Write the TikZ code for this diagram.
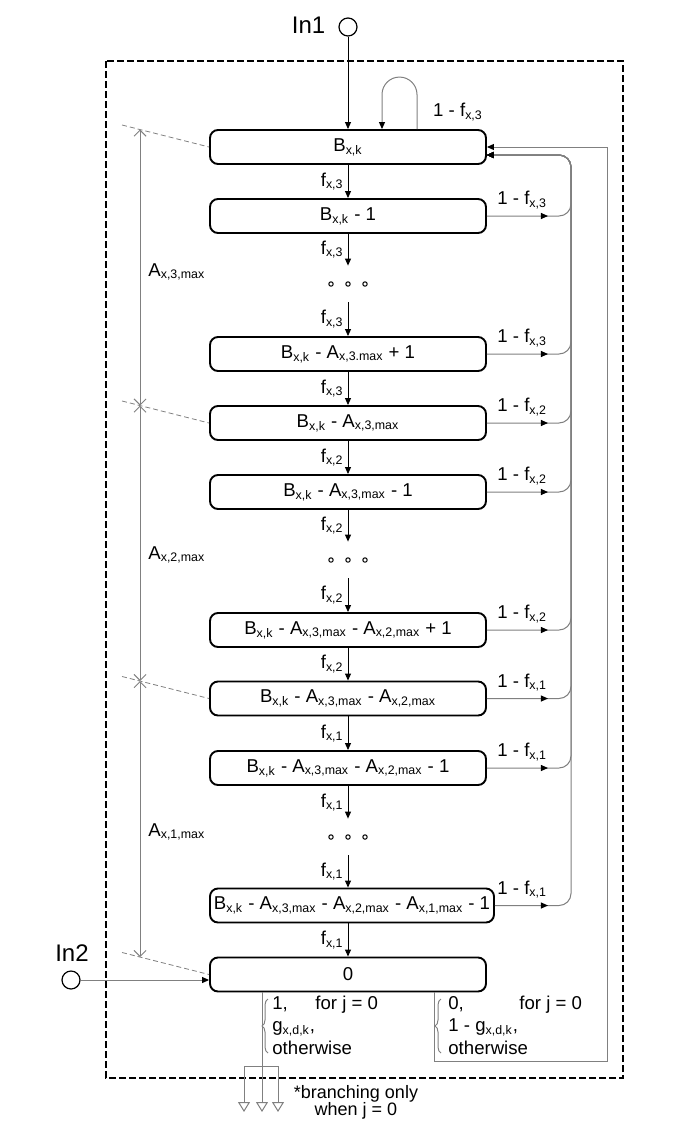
\documentclass[tikz,border=0pt]{standalone}
\usepackage{fontspec}
\setmainfont{Liberation Sans}
\usetikzlibrary{arrows.meta,calc,decorations.pathreplacing,decorations.markings}

\newcommand{\sbs}[1]{\textsubscript{\fontsize{6.2}{6.2}\selectfont #1}}
\newcommand{\Bxk}{B\sbs{x,k}}
\newcommand{\Amx}[1]{A\sbs{x,#1,max}}
\newcommand{\fx}[1]{f\sbs{x,#1}}

\begin{document}
\begin{tikzpicture}[
    x=0.5pt, y=-0.5pt,
    font=\fontsize{9.3}{11.2}\selectfont,
    blacktip/.style={-{Triangle[length=3.5pt,width=3pt,color=black]}},
    state/.style={draw, line width=0.95pt, rounded corners=4pt,
        minimum width=138pt, minimum height=17pt, inner sep=0pt},
    flow/.style={line width=0.45pt, blacktip},
    fb/.style={gray, line width=0.5pt},
    fl/.style={left, inner sep=2pt},
    dim/.style={gray, line width=0.45pt,
        {Straight Barb[length=3pt,width=6pt]}-{Straight Barb[length=3pt,width=6pt]}},
    guide/.style={gray, line width=0.4pt, dash pattern=on 2.5pt off 1.5pt},
    port/.style={circle, draw, line width=0.6pt, minimum size=9pt, inner sep=0pt},
    midtip/.style={postaction={decorate}, decoration={markings,
        mark=at position #1 with {\arrow{Triangle[length=3.5pt,width=3pt,color=black]}}}},
    sink/.style={-{Triangle[open,length=5pt,width=6pt]}},
]
\useasboundingbox (0,0) rectangle (685,1146);

% ---- 外框 ----
\draw[line width=0.75pt, dash pattern=on 3.5pt off 1.5pt] (106,61) rectangle (623,1078);

% ---- 状态 ----
\node[state] (b1)  at (348,147)   {\Bxk};
\node[state] (b2)  at (348,216)   {\Bxk{} - 1};
\node[state] (b3)  at (348,354)   {\Bxk{} - A\sbs{x,3.max} + 1};
\node[state] (b4)  at (348,423)   {\Bxk{} - \Amx{3}};
\node[state] (b5)  at (348,492)   {\Bxk{} - \Amx{3} - 1};
\node[state] (b6)  at (348,630)   {\Bxk{} - \Amx{3} - \Amx{2} + 1};
\node[state] (b7)  at (348,698.5) {\Bxk{} - \Amx{3} - \Amx{2}};
\node[state] (b8)  at (348,768)   {\Bxk{} - \Amx{3} - \Amx{2} - 1};
\node[state, minimum width=142pt] (b9) at (352,905.5)
    {\Bxk{} - \Amx{3} - \Amx{2} - \Amx{1} - 1};
\node[state] (b10) at (348,974.5) {0};

% ---- 省略号 ----
\foreach \n/\yd in {1/284, 2/560, 3/837} {
    \node[minimum width=40pt, minimum height=18pt, inner sep=0pt] (d\n) at (348,\yd) {};
    \foreach \dx in {-17,0,17}
        \draw[line width=0.5pt] ($(d\n)+(\dx,0)$) circle (1.1pt);
}

% ---- 输入 ----
\node[port] (in1) at (348,27) {};
\node[anchor=east, font=\fontsize{12}{14}\selectfont] (tin1) at ($(in1.west)+(-6,-2)$) {In1};
\node[port] (in2) at (71,980) {};
\node[font=\fontsize{12}{14}\selectfont] (tin2) at (72,953) {In2};
\draw[flow] (in1) -- (b1.north -| in1);
\draw[fb, blacktip] (in2) -- (in2 -| b10.west);

% ---- 主链 ----
\foreach \a/\b/\k in {b1/b2/3, b2/d1/3, d1/b3/3, b3/b4/3, b4/b5/2, b5/d2/2,
                      d2/b6/2, b6/b7/2, b7/b8/1, b8/d3/1, d3/b9/1, b9/b10/1}
    \draw[flow] (\a.south -| in1) -- node[fl] {\fx{\k}} (\b.north -| in1);

% ---- 自环 ----
\draw[fb, blacktip, rounded corners=8.75pt]
    ($(b1.north)+(69,0)$) -- ++(0,-52) -- ++(-35,0) -- ++(0,52);
\node (lself) at (458,112) {1 - \fx{3}};

% ---- 回到 B ----
\coordinate (bus) at (571,155);
\coordinate (fbin) at ($(b1.east)+(0,8)$);
\coordinate (lx) at (497,0);
\foreach \s/\k/\p in {b2/3/30.5pt, b3/3/30.5pt, b4/2/30.5pt, b5/2/30.5pt,
                      b6/2/30.5pt, b7/1/30.5pt, b8/1/30.5pt, b9/1/26.5pt} {
    \draw[fb, blacktip, rounded corners=6pt, midtip=\p]
        (\s.east) -- (\s.east -| bus) -- (bus) -- (fbin);
    \node[anchor=west, inner sep=0pt] (l\s) at ($(\s.east -| lx)+(0,-16)$) {1 - \fx{\k}};
}
\coordinate (loopr) at (607,1061);
\draw[fb, blacktip] ($(b10.south)+(86,0)$) |- (loopr) |- (b1.east);

% ---- 尺寸线 ----
\foreach \s/\n in {b1/1, b4/2, b7/3, b10/4} {
    \coordinate (g\n) at ($(\s.west)+(-87,-22)$);
    \draw[guide] (g\n) -- (\s.west);
    \coordinate (m\n) at ($(g\n)!0.207!(\s.west)$);
}
\draw[dim] (m1) -- (m2);
\draw[dim] (m2) -- (m3);
\draw[dim] (m3) -- (m4);
\node[anchor=west, inner sep=0pt] (a3) at (148,272) {\Amx{3}};
\node[anchor=west, inner sep=0pt] (a2) at (148,555) {\Amx{2}};
\node[anchor=west, inner sep=0pt] (a1) at (148,832) {\Amx{1}};

% ---- 输出 ----
\coordinate (out0) at (244,1112);
\coordinate (out1) at (262,1112);
\coordinate (out2) at (278,1112);
\coordinate (split) at (262,1066);
\draw[fb, sink] (b10.south -| out1) -- (out1);
\draw[fb, sink] (out0 |- split) -- (out0);
\draw[fb, sink] (out0 |- split) -- (out2 |- split) -- (out2);

\draw[fb, decorate, decoration={brace, amplitude=3pt}] (268,1053) -- (268,999);
\node[anchor=west, align=left, inner sep=0pt] (cl) at (272,1025)
    {\makebox[21.5pt][l]{1,}for j = 0\\ g\sbs{x,d,k},\\ otherwise};
\draw[fb, decorate, decoration={brace, amplitude=3pt}] (441,1053) -- (441,999);
\node[anchor=west, align=left, inner sep=0pt] (cr) at (448,1025)
    {\makebox[35.5pt][l]{0,}for j = 0\\ 1 - g\sbs{x,d,k},\\ otherwise};

\node[align=center, font=\fontsize{9}{8.5}\selectfont] (note) at (356,1102)
    {*branching only\\when j = 0};
\end{tikzpicture}
\end{document}
